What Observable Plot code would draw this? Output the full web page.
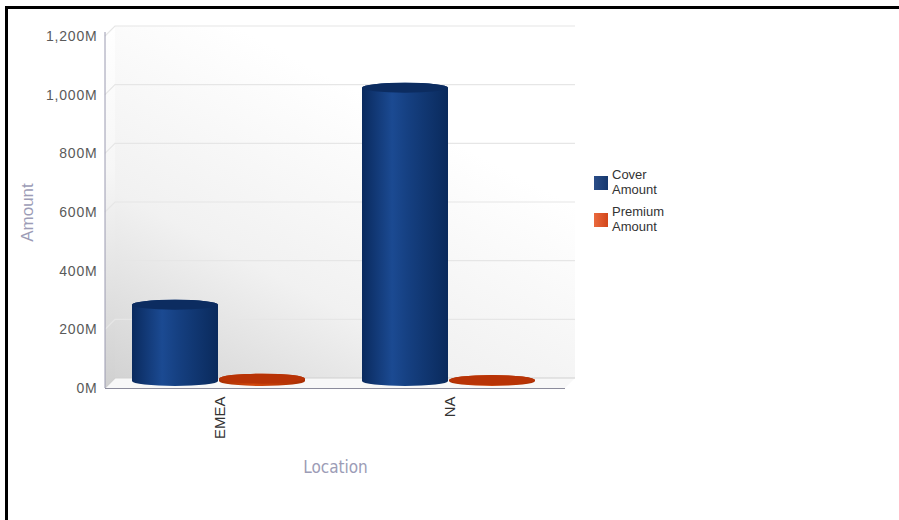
<!DOCTYPE html>
<html>
<head>
<meta charset="utf-8">
<script src="https://cdn.jsdelivr.net/npm/d3@7"></script>
<script src="https://cdn.jsdelivr.net/npm/@observablehq/plot@0.6"></script>
<style>
  html, body { margin: 0; padding: 0; background: #fff; overflow: hidden; }
  #wrap { position: relative; width: 899px; height: 520px; overflow: hidden; font-family: "Liberation Sans", Arial, sans-serif; }
  .bar { position: absolute; background: #000; }
  #chart { position: absolute; left: 0; top: 0; }
  #legend { position: absolute; left: 594px; top: 167px; font-size: 13px; color: #333; line-height: 15px; }
  .item { position: relative; padding-left: 18px; height: 30px; margin-bottom: 7px; }
  .sw { position: absolute; left: 0; width: 14px; height: 14px; }
</style>
</head>
<body>
<div id="wrap">
  <div class="bar" style="left:5px;top:6px;width:894px;height:3px;"></div>
  <div class="bar" style="left:5px;top:6px;width:3px;height:514px;"></div>
  <div id="chart"></div>
  <div id="legend">
    <div class="item"><span class="sw" style="top:9px;background:linear-gradient(90deg,#2a4d88,#16386e);"></span>Cover<br>Amount</div>
    <div class="item"><span class="sw" style="top:9px;background:linear-gradient(90deg,#ea6a3e,#d2461a);"></span>Premium<br>Amount</div>
  </div>
</div>
<script>
// ---- data ----
const locations = ["EMEA", "NA"];
const seriesNames = ["Cover Amount", "Premium Amount"];
const coverAmount = [260e6, 1000e6];
const premiumAmount = [8e6, 3e6];
const yTicks = [0, 200e6, 400e6, 600e6, 800e6, 1000e6, 1200e6];

const cover = locations.map((loc, i) => ({location: loc, series: seriesNames[0], value: coverAmount[i]}));
const premium = locations.map((loc, i) => ({location: loc, series: seriesNames[1], value: premiumAmount[i]}));

const fmt = d => d3.format(",")(d / 1e6) + "M";
const DY = -7, R = 5;

const plot = Plot.plot({
  width: 880,
  height: 520,
  marginLeft: 105,
  marginRight: 315,
  marginTop: 36,
  marginBottom: 132,
  style: {fontFamily: "'Liberation Sans', Arial, sans-serif", fontSize: "14px", color: "#555", background: "transparent", overflow: "visible"},
  x: {domain: locations, padding: 0, tickSize: 0, tickPadding: 8, tickRotate: -90, label: null},
  y: {domain: [0, 1200e6], ticks: yTicks, tickFormat: fmt, tickSize: 0, tickPadding: 8, label: null},
  marks: [
    // cover cylinders
    Plot.barY(cover, {x: "location", y1: 0, y2: "value", dy: DY, insetLeft: 27, insetRight: 117, insetTop: -R, insetBottom: -R, rx: 60, ry: R, fill: "url(#coverBody)"}),
    Plot.barY(cover, {x: "location", y1: "value", y2: "value", dy: DY, insetLeft: 27, insetRight: 117, insetTop: -R, insetBottom: -R, rx: 60, ry: R, fill: "#0c2c60"}),
    // premium cylinders
    Plot.barY(premium, {x: "location", y1: 0, y2: "value", dy: DY, insetLeft: 114, insetRight: 30, insetTop: -R, insetBottom: -R, rx: 60, ry: R, fill: "url(#premBody)"}),
    Plot.barY(premium, {x: "location", y1: "value", y2: "value", dy: DY, insetLeft: 114, insetRight: 30, insetTop: -R, insetBottom: -R, rx: 60, ry: R, fill: "#b83306"}),
    // axis titles
    Plot.text(["Amount"], {frameAnchor: "left", dx: -78, rotate: -90, textAnchor: "middle", fill: "#9c9cb6", fontSize: 17, text: d => d}),
    Plot.text(["Location"], {frameAnchor: "bottom", dy: 84, textAnchor: "middle", fill: "#9c9cb6", fontSize: 17, text: d => d, fontFamily: "'Liberation Sans Narrow', 'DejaVu Sans Condensed', sans-serif"})
  ]
});
document.getElementById("chart").appendChild(plot);

// ---- 3D chrome (behind the marks) ----
const svg = d3.select(plot);
const y = plot.scale("y"), x = plot.scale("x");
const L = x.range[0], Rt = x.range[1];
const y0 = y.apply(0), yTop = y.apply(1200e6);
const D = 10;

const defs = svg.insert("defs", ":first-child");
const g1 = defs.append("linearGradient").attr("id", "coverBody");
[[0, "#0a2a5e"], [0.35, "#1b4a92"], [0.55, "#153f80"], [1, "#0a2a5c"]].forEach(([o, c]) => g1.append("stop").attr("offset", o).attr("stop-color", c));
const g2 = defs.append("linearGradient").attr("id", "premBody");
[[0, "#a82e02"], [0.4, "#d2480e"], [1, "#a82e02"]].forEach(([o, c]) => g2.append("stop").attr("offset", o).attr("stop-color", c));
const g3 = defs.append("linearGradient").attr("id", "wall").attr("x1", 0).attr("y1", 1).attr("x2", 0.55).attr("y2", 0.2);
[[0, "#d3d3d3"], [0.45, "#f1f1f1"], [1, "#ffffff"]].forEach(([o, c]) => g3.append("stop").attr("offset", o).attr("stop-color", c));
const g4 = defs.append("linearGradient").attr("id", "side").attr("x1", 0).attr("y1", 1).attr("x2", 0).attr("y2", 0);
[[0, "#d0d0d0"], [0.6, "#f6f6f6"], [1, "#ffffff"]].forEach(([o, c]) => g4.append("stop").attr("offset", o).attr("stop-color", c));

const chrome = svg.insert("g", "defs + *").attr("aria-label", "chrome");
chrome.append("rect").attr("x", L + D).attr("y", yTop - D).attr("width", Rt - L).attr("height", y0 - yTop).attr("fill", "url(#wall)");
chrome.append("path").attr("d", `M${L},${y0}L${L},${yTop}L${L + D},${yTop - D}L${L + D},${y0 - D}Z`).attr("fill", "url(#side)");
chrome.append("path").attr("d", `M${L},${y0}L${Rt},${y0}L${Rt + D},${y0 - D}L${L + D},${y0 - D}Z`).attr("fill", "#f8f8f8");
yTicks.forEach(t => {
  const yy = y.apply(t);
  chrome.append("path").attr("d", `M${L},${yy}L${L + D},${yy - D}L${Rt + D},${yy - D}`)
    .attr("fill", "none").attr("stroke", t === 0 ? "#cfcfcf" : "#e6e6e6").attr("stroke-width", 1.2);
});
chrome.append("line").attr("x1", L).attr("x2", L).attr("y1", yTop - 4).attr("y2", y0).attr("stroke", "#9a9ab0");
chrome.append("line").attr("x1", L).attr("x2", Rt).attr("y1", y0 + 0.5).attr("y2", y0 + 0.5).attr("stroke", "#8c8c9c");

svg.selectAll('[aria-label="y-axis"] text, [aria-label="y-axis tick label"] text').attr("fill", "#5a5a5a").style("letter-spacing", "0.8px");
svg.selectAll('[aria-label="x-axis"] text, [aria-label="x-axis tick label"] text').attr("fill", "#333").style("font-size", "15px");
</script>
</body>
</html>
